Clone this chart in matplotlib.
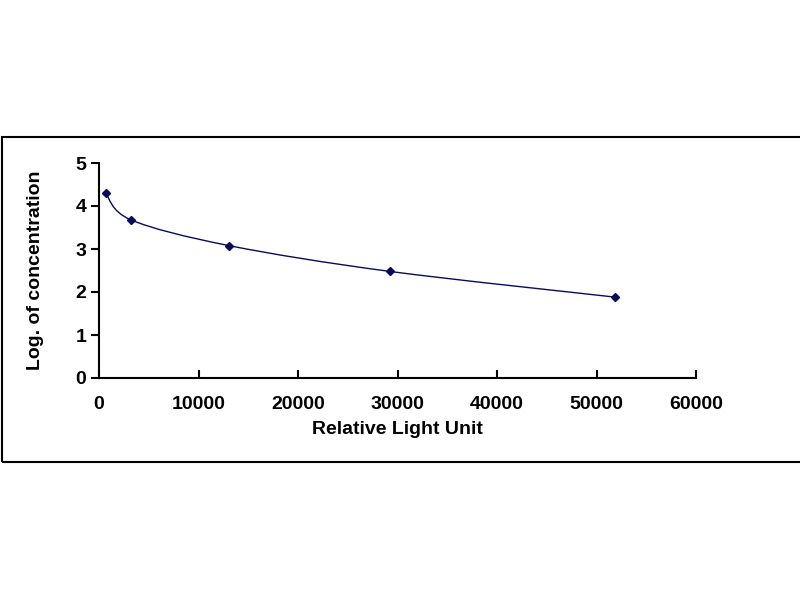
"""Standard curve: log concentration versus relative light unit."""

import matplotlib

matplotlib.use("Agg")

import matplotlib.pyplot as plt
import numpy as np
from matplotlib.patches import PathPatch, Rectangle
from matplotlib.path import Path

plt.rcParams["font.family"] = ["Liberation Sans", "DejaVu Sans"]

# data
rlu = [670, 3190, 13040, 29200, 51900]
log_conc = [4.30, 3.68, 3.08, 2.48, 1.88]

x_ticks = [0, 10000, 20000, 30000, 40000, 50000, 60000]
y_ticks = [0, 1, 2, 3, 4, 5]

NAVY = "#0a0a5a"


def smooth_path(xs, ys):
    """Bezier path through the points, like a spreadsheet smoothed line."""
    pts = np.column_stack([xs, ys]).astype(float)
    n = len(pts)
    verts = [pts[0]]
    codes = [Path.MOVETO]
    for i in range(n - 1):
        p0 = pts[i - 1] if i > 0 else pts[i]
        p1 = pts[i]
        p2 = pts[i + 1]
        p3 = pts[i + 2] if i + 2 < n else pts[i + 1]
        c1 = p1 + (p2 - p0) / 6.0
        c2 = p2 - (p3 - p1) / 6.0
        verts += [c1, c2, p2]
        codes += [Path.CURVE4] * 3
    return Path(verts, codes)


fig = plt.figure(figsize=(8, 6), dpi=100)
ax = fig.add_axes([99 / 800, 1 - 378 / 600, (696 - 99) / 800, (378 - 163) / 600])

curve = PathPatch(smooth_path(rlu, log_conc), facecolor="none", edgecolor=NAVY,
                  linewidth=1.0, transform=ax.transData)
ax.add_patch(curve)
ax.plot(rlu, log_conc, linestyle="none", marker="D", markersize=4.5,
        color=NAVY, zorder=3)

ax.set_xlim(0, 60000)
ax.set_ylim(0, 5)
ax.set_xticks(x_ticks)
ax.set_yticks(y_ticks)
ax.tick_params(axis="x", direction="in", length=6, width=1.5, pad=13,
               labelsize=14)
ax.tick_params(axis="y", direction="out", length=6, width=1.5, pad=3,
               labelsize=14)
for label in ax.get_xticklabels() + ax.get_yticklabels():
    label.set_fontweight("bold")

for side in ("top", "right"):
    ax.spines[side].set_visible(False)
for side in ("left", "bottom"):
    ax.spines[side].set_linewidth(1.5)

ax.set_xlabel("Relative Light Unit", fontsize=14, fontweight="bold", labelpad=6)
ax.set_ylabel("Log. of concentration", fontsize=14, fontweight="bold", labelpad=23)

fig.patches.append(Rectangle((2 / 800, 1 - 462 / 600), 0.999, (462 - 137) / 600,
                             transform=fig.transFigure, fill=False,
                             edgecolor="black", linewidth=1.5))

fig.savefig("out.png", dpi=100)
